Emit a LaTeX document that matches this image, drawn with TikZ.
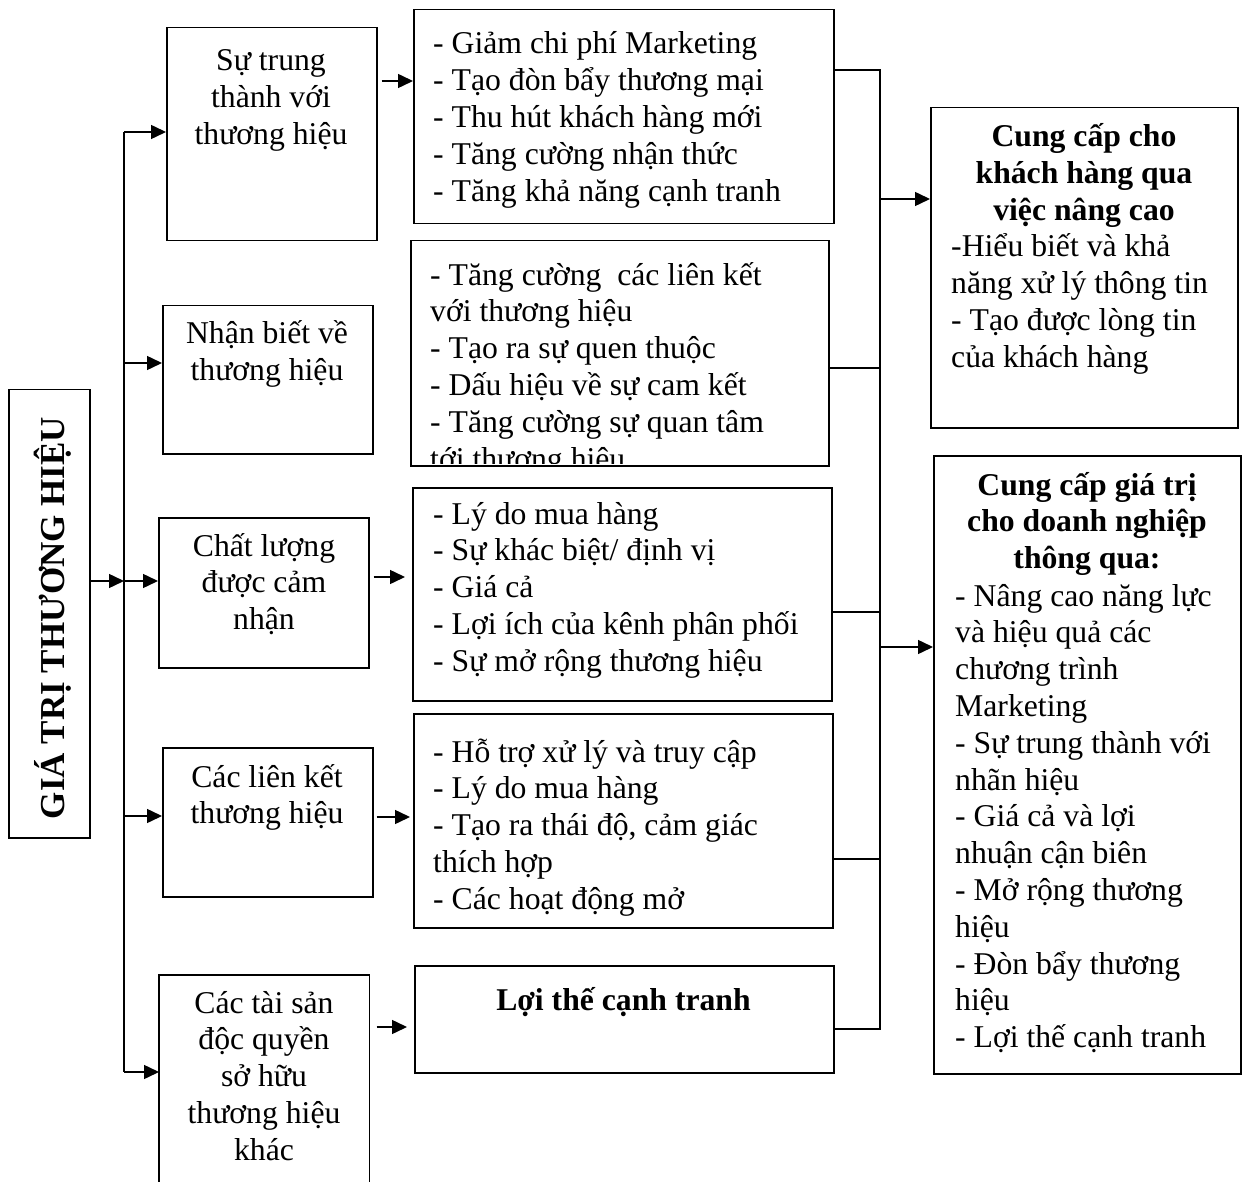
\documentclass[tikz,border=0pt]{standalone}
\usepackage{fontspec}
\setmainfont{Liberation Serif}
\usetikzlibrary{arrows.meta}
\newcommand\bodytxt{\fontsize{31.7}{36.8}\selectfont\lineskiplimit=-100pt\relax}
\newcommand\titletxt{\fontsize{35}{40}\selectfont\bfseries}
\begin{document}
% text nodes are anchored on the baseline of their last line
\begin{tikzpicture}[x=1pt,y=-1pt,
  box/.style={draw, line width=1.5pt, inner sep=0pt, anchor=north west},
  txt/.style={inner sep=0pt, font=\bodytxt},
  ctxt/.style={txt, align=center, anchor=base},
  ltxt/.style={txt, align=left, anchor=base west},
  ln/.style={line width=1.5pt},
  arr/.style={ln, -{Triangle[length=15pt,width=14pt]}}]
\useasboundingbox[fill=white] (0,0) rectangle (1243,1182);

% title box
\node[box, minimum width=81pt, minimum height=448pt] (title) at (8,389) {};
\node[inner sep=0pt, font=\titletxt, rotate=90, anchor=base] (titletext) at (64,618)
  {GIÁ TRỊ THƯƠNG HIỆU};

% components of brand value
\node[box, minimum width=210pt, minimum height=213pt] (b1) at (166,27) {};
\node[ctxt] (b1t) at (271,144.6) {Sự trung\\thành với\\thương hiệu};
\node[box, minimum width=210pt, minimum height=148pt] (b2) at (162,305) {};
\node[ctxt] (b2t) at (267,380.8) {Nhận biết về\\thương hiệu};
\node[box, minimum width=210pt, minimum height=150pt] (b3) at (158,517) {};
\node[ctxt] (b3t) at (264,629.6) {Chất lượng\\được cảm\\nhận};
\node[box, minimum width=210pt, minimum height=149pt] (b4) at (162,747) {};
\node[ctxt] (b4t) at (267,823.8) {Các liên kết\\thương hiệu};
\node[box, draw=none, minimum width=209pt, minimum height=212pt] (b5) at (159,975) {};
\draw[ln] (b5.south west) -- (b5.north west) -- (b5.north east) -- (b5.south east);
\node[ctxt] (b5t) at (264,1160.2) {Các tài sản\\độc quyền\\sở hữu\\thương hiệu\\khác};

% benefit lists
\node[box, minimum width=420pt, minimum height=214pt] (l1) at (413,9) {};
\node[ltxt] (l1t) at (433,201.2) {- Giảm chi phí Marketing\\- Tạo đòn bẩy thương mại\\- Thu hút khách hàng mới\\- Tăng cường nhận thức\\- Tăng khả năng cạnh tranh};
\node[box, minimum width=418pt, minimum height=225pt] (l2) at (410,240) {};
\begin{scope}
  \clip (l2.north west) rectangle ([yshift=3pt]l2.south east);
  \node[ltxt] (l2t) at (430,469) {- Tăng cường\ \ các liên kết\\với thương hiệu\\- Tạo ra sự quen thuộc\\- Dấu hiệu về sự cam kết\\- Tăng cường sự quan tâm\\tới thương hiệu};
\end{scope}
\node[box, minimum width=419pt, minimum height=213pt] (l3) at (412,487) {};
\node[ltxt] (l3t) at (433,671.2) {- Lý do mua hàng\\- Sự khác biệt/ định vị\\- Giá cả\\- Lợi ích của kênh phân phối\\- Sự mở rộng thương hiệu};
\node[box, minimum width=419pt, minimum height=214pt] (l4) at (413,713) {};
\node[ltxt] (l4t) at (433,909.2) {- Hỗ trợ xử lý và truy cập\\- Lý do mua hàng\\- Tạo ra thái độ, cảm giác\\thích hợp\\- Các hoạt động mở};
\node[box, minimum width=419pt, minimum height=107pt] (lt) at (414,965) {};
\node[ctxt, font=\bodytxt\bfseries] (ltt) at (623.5,1010) {Lợi thế cạnh tranh};

% value delivered
\node[box, minimum width=307pt, minimum height=320pt] (r1) at (930,107) {};
\node[ctxt, font=\bodytxt\bfseries] (r1h) at (1084,220.6) {Cung cấp cho\\khách hàng qua\\việc nâng cao};
\node[ltxt] (r1t) at (951,367.4) {-Hiểu biết và khả\\năng xử lý thông tin\\- Tạo được lòng tin\\của khách hàng};
\node[box, minimum width=307pt, minimum height=618pt] (r2) at (933,455) {};
\node[ctxt, font=\bodytxt\bfseries] (r2h) at (1087,568.6) {Cung cấp giá trị\\cho doanh nghiệp\\thông qua:};
\node[ltxt] (r2t) at (955,1047.6) {- Nâng cao năng lực\\và hiệu quả các\\chương trình\\Marketing\\- Sự trung thành với\\nhãn hiệu\\- Giá cả và lợi\\nhuận cận biên\\- Mở rộng thương\\hiệu\\- Đòn bẩy thương\\hiệu\\- Lợi thế cạnh tranh};

% left trunk
\coordinate (tA) at (124,132);
\coordinate (tB) at (124,363);
\coordinate (tC) at (124,581);
\coordinate (tD) at (124,816);
\coordinate (tE) at (124,1072);
\draw[ln] (tA) -- (tE);
\draw[arr] (title.east |- tC) -- (tC);
\draw[arr] (tA) -- (tA -| b1.west);
\draw[arr] (tB) -- (tB -| b2.west);
\draw[arr] (tC) -- (tC -| b3.west);
\draw[arr] (tD) -- (tD -| b4.west);
\draw[arr] (tE) -- (tE -| b5.west);

% component to list arrows
\coordinate (h1) at (0,81);
\coordinate (h3) at (0,577);
\coordinate (h4) at (0,817);
\coordinate (h5) at (0,1027);
\draw[arr, shorten <=4pt] (b1.east |- h1) -- (l1.west |- h1);
\draw[arr, shorten <=4pt, shorten >=7pt] (b3.east |- h3) -- (l3.west |- h3);
\draw[arr, shorten <=3pt, shorten >=3pt] (b4.east |- h4) -- (l4.west |- h4);
\draw[arr, shorten <=7pt, shorten >=7pt] (b5.east |- h5) -- (lt.west |- h5);

% right collector
\coordinate (cTop) at (880,70);
\coordinate (c2) at (880,368);
\coordinate (c3) at (880,612);
\coordinate (c4) at (880,859);
\coordinate (cBot) at (880,1029);
\draw[ln] (l1.east |- cTop) -- (cTop) -- (cBot) -- (lt.east |- cBot);
\draw[ln] (l2.east |- c2) -- (c2);
\draw[ln] (l3.east |- c3) -- (c3);
\draw[ln] (l4.east |- c4) -- (c4);
\coordinate (o1) at (880,199);
\coordinate (o2) at (880,647);
\draw[arr] (o1) -- (o1 -| r1.west);
\draw[arr] (o2) -- (o2 -| r2.west);
\end{tikzpicture}
\end{document}
